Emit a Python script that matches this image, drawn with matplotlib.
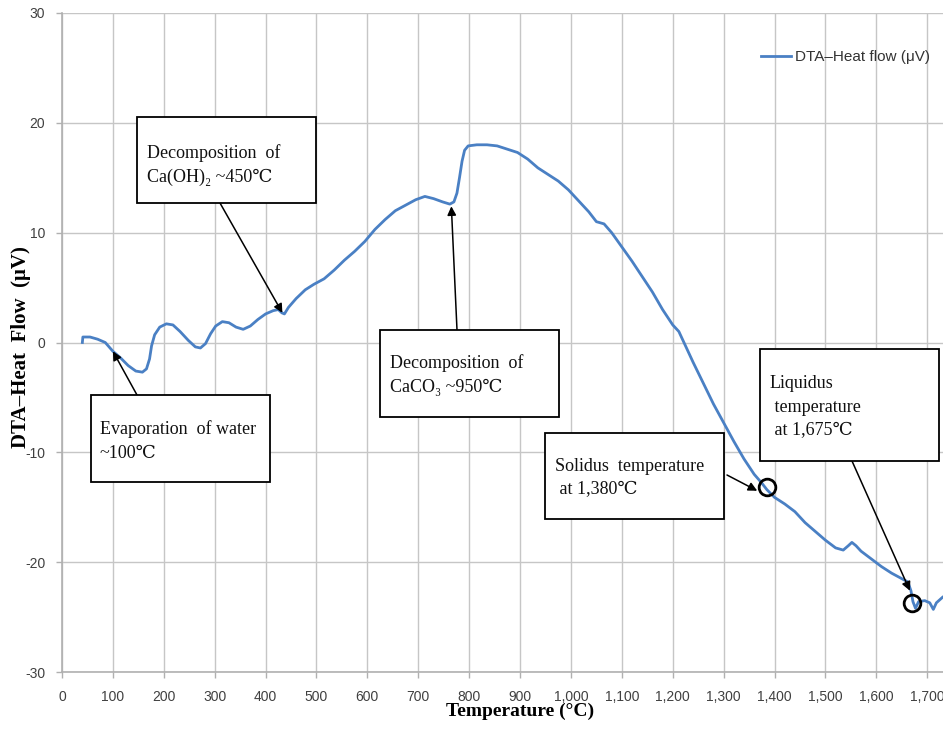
import matplotlib
matplotlib.use("Agg")
import matplotlib.pyplot as plt
from matplotlib.patches import Rectangle
from matplotlib.ticker import FuncFormatter

plt.rcParams["axes.unicode_minus"] = False

# ---------------- data ----------------
temperature = [40, 41, 55, 70, 85, 100, 115, 130, 145, 158, 166, 172, 176, 182, 192,
               205, 218, 232, 248, 262, 272, 282, 292, 302, 315, 328, 342, 356, 370,
               385, 400, 415, 425, 432, 437, 445, 460, 478, 495, 515, 535, 555, 575,
               595, 615, 635, 655, 675, 695, 713, 730, 748, 762, 770, 776, 781, 786,
               791, 798, 815, 835, 855, 875, 895, 915, 935, 955, 975, 995, 1015, 1035,
               1050, 1065, 1080, 1100, 1120, 1140, 1160, 1180, 1200, 1212, 1222, 1240,
               1260, 1280, 1300, 1320, 1340, 1360, 1375, 1385, 1400, 1420, 1440, 1460,
               1480, 1500, 1520, 1535, 1545, 1552, 1560, 1570, 1590, 1610, 1630, 1650,
               1662, 1668, 1672, 1677, 1683, 1695, 1705, 1712, 1718, 1730]
heat_flow = [0.0, 0.5, 0.5, 0.3, 0.0, -0.8, -1.4, -2.1, -2.6, -2.7, -2.4, -1.5, -0.3,
             0.7, 1.4, 1.7, 1.6, 1.0, 0.2, -0.4, -0.5, -0.1, 0.8, 1.5, 1.9, 1.8, 1.4,
             1.2, 1.5, 2.1, 2.6, 2.9, 3.0, 2.7, 2.6, 3.2, 4.0, 4.8, 5.3, 5.8, 6.6, 7.5,
             8.3, 9.2, 10.3, 11.2, 12.0, 12.5, 13.0, 13.3, 13.1, 12.8, 12.6, 12.8, 13.6,
             15.0, 16.5, 17.5, 17.9, 18.0, 18.0, 17.9, 17.6, 17.3, 16.7, 15.9, 15.3,
             14.7, 13.9, 12.9, 11.9, 11.0, 10.8, 10.0, 8.7, 7.4, 6.0, 4.6, 3.0, 1.6,
             1.0, 0.0, -1.8, -3.7, -5.6, -7.3, -9.0, -10.6, -12.0, -12.8, -13.4, -14.1,
             -14.7, -15.4, -16.4, -17.2, -18.0, -18.7, -18.9, -18.5, -18.2, -18.5,
             -19.0, -19.7, -20.4, -21.0, -21.5, -21.8, -22.6, -23.6, -24.2, -23.6,
             -23.5, -23.7, -24.3, -23.7, -23.2]

x_ticks = list(range(0, 1701, 100))
y_ticks = [-30, -20, -10, 0, 10, 20, 30]

series_label = "DTA\u2013Heat flow (\u03bcV)"
x_label = "Temperature (\u00b0C)"
y_label = "DTA\u2013Heat  Flow  (\u03bcV)"

# annotations: (text, arrow target temperature, arrow target heat flow)
ann_evap = ("Evaporation  of water\n~100\u2103", 100, -0.8)
ann_caoh = ("Decomposition  of\nCa(OH)\u2082 ~450\u2103", 433, 2.7)
ann_caco = ("Decomposition  of\nCaCO\u2083 ~950\u2103", 765, 12.4)
ann_sol = ("Solidus  temperature\n at 1,380\u2103", 1366, -13.5)
ann_liq = ("Liquidus\n temperature\n at 1,675\u2103", 1666, -22.6)
circle_points_x = [1385, 1670]
circle_points_y = [-13.2, -23.7]

# ---------------- figure ----------------
W, H = 943, 750
fig = plt.figure(figsize=(W / 100, H / 100), dpi=100)
fig.patch.set_facecolor("white")

def fx(px):
    return px / W

def fy(py):
    return 1 - py / H

ax = fig.add_axes([fx(62), fy(672), fx(943) - fx(62), fy(13) - fy(672)])

line_color = "#4a80c4"
ax.plot(temperature, heat_flow, color=line_color, lw=2.0, label=series_label,
        zorder=3, solid_joinstyle="round")

ax.set_xlim(0, 1731)
ax.set_ylim(-30, 30)
ax.set_xticks(x_ticks)
ax.set_yticks(y_ticks)
ax.xaxis.set_major_formatter(FuncFormatter(lambda v, p: f"{int(v):,}"))
ax.grid(True, color="#c6c6c6", lw=1.0, zorder=0)
for s in ["top", "right"]:
    ax.spines[s].set_visible(False)
for s in ["left", "bottom"]:
    ax.spines[s].set_color("#b0b0b0")
    ax.spines[s].set_linewidth(1.2)

tick_font = ["Liberation Sans", "DejaVu Sans"]
ax.tick_params(axis="both", length=4, width=1, color="#b0b0b0", labelcolor="#404040",
               labelsize=10)
ax.tick_params(axis="x", pad=9)
ax.tick_params(axis="y", pad=8)
for lab in ax.get_xticklabels() + ax.get_yticklabels():
    lab.set_fontfamily(tick_font)

serif = ["Liberation Serif", "DejaVu Serif"]
fig.text(fx(520), fy(711), x_label, ha="center", va="center", fontsize=14,
         fontweight="bold", family=serif)
fig.text(fx(21), fy(347), y_label, ha="center", va="center", rotation=90,
         fontsize=15, fontweight="bold", family=serif)

leg = ax.legend(loc="center left", bbox_to_anchor=(0.793, 0.933), frameon=False,
                handlelength=2.0, handletextpad=0.25, borderpad=0, borderaxespad=0,
                prop={"family": tick_font, "size": 11})
for t in leg.get_texts():
    t.set_color("#333333")

# circles at solidus / liquidus
ax.plot(circle_points_x, circle_points_y, linestyle="none", marker="o", ms=12,
        mfc="none", mec="black", mew=2.0, zorder=6)

def box(l, t, r, b, text, tx, ty):
    rect = Rectangle((fx(l), fy(b)), fx(r) - fx(l), fy(t) - fy(b),
                     transform=fig.transFigure, facecolor="white",
                     edgecolor="black", lw=1.3, zorder=8, clip_on=False)
    ax.add_patch(rect)
    ax.text(fx(tx), fy(ty), text, transform=fig.transFigure, ha="left", va="center",
            fontsize=13, family=serif, linespacing=1.5, zorder=9, color="#111111")

def arrow(sx, sy, target):
    ax.annotate("", xy=target, xycoords="data", xytext=(fx(sx), fy(sy)),
                textcoords="figure fraction",
                arrowprops=dict(arrowstyle="-|>", color="black", lw=1.1,
                                mutation_scale=13, shrinkA=0, shrinkB=0),
                zorder=7, annotation_clip=False)

box(91, 395, 270, 482, ann_evap[0], 100, 441)
arrow(137, 395, (ann_evap[1], ann_evap[2]))

box(137, 117, 316, 203, ann_caoh[0], 147, 165)
arrow(220, 203, (ann_caoh[1], ann_caoh[2]))

box(380, 330, 559, 417, ann_caco[0], 390, 375)
arrow(457, 330, (ann_caco[1], ann_caco[2]))

box(545, 433, 724, 519, ann_sol[0], 555, 478)
arrow(727, 475, (ann_sol[1], ann_sol[2]))

box(760, 349, 939, 461, ann_liq[0], 770, 407)
arrow(852, 461, (ann_liq[1], ann_liq[2]))

fig.savefig("out.png", dpi=100, facecolor="white")
